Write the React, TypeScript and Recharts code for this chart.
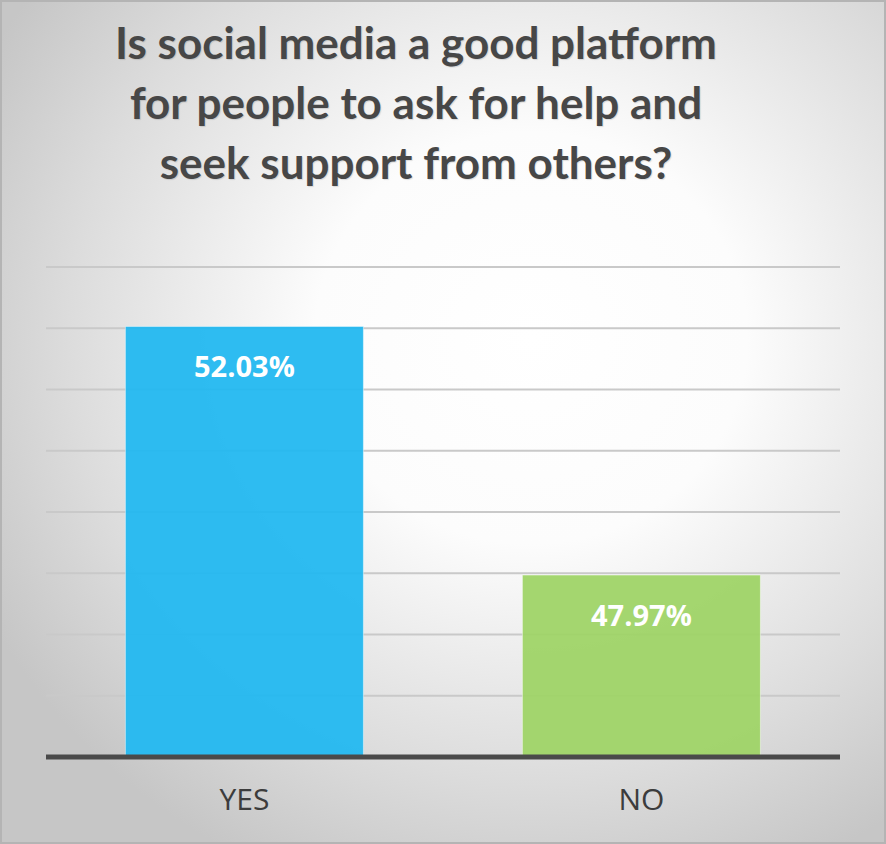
import React from 'react';
import { BarChart, Bar, XAxis, YAxis, CartesianGrid, LabelList, Cell } from 'recharts';

const answers = ['YES', 'NO'];
const shares = [52.03, 47.97];
const barColors = ['#23b8f0', '#9fd467'];
const yTicks = [45, 46, 47, 48, 49, 50, 51, 52, 53];
const titleLines = [
    'Is social media a good platform',
    'for people to ask for help and',
    'seek support from others?',
];

const data = answers.map((answer, i) => ({ answer, share: shares[i] }));

const AnswerTick = (props: any) => {
    const { x, y, payload } = props;
    return (
        <text x={x} y={y + 45} textAnchor="middle" fill="#3c3c3c" fontSize={30} fontFamily="'Open Sans', sans-serif">
            {payload.value}
        </text>
    );
};

const ShareLabel = (props: any) => {
    const { x, y, width, value } = props;
    return (
        <text
            x={x + width / 2}
            y={y + 51}
            textAnchor="middle"
            fill="#ffffff"
            fontSize={29}
            fontWeight={700}
            fontFamily="'Open Sans', sans-serif"
        >
            {value.toFixed(2)}%
        </text>
    );
};

export default function App() {
    return (
        <div
            style={{
                position: 'absolute',
                top: 0,
                left: 0,
                width: 886,
                height: 844,
                boxSizing: 'border-box',
                border: '2px solid #b4b4b4',
                background: 'radial-gradient(ellipse 70% 70% at 60% 40%, #ffffff 0%, #fcfcfc 35%, #dcdcdc 75%, #c6c6c6 100%)',
                overflow: 'hidden',
            }}
        >
            <div
                style={{
                    position: 'absolute',
                    top: 10,
                    left: 0,
                    width: 828,
                    textAlign: 'center',
                    fontFamily: 'Lato, sans-serif',
                    fontWeight: 700,
                    fontSize: 44,
                    lineHeight: '60px',
                    color: '#474747',
                    textShadow: '1px 1px 1px rgba(0,0,0,0.12)',
                }}
            >
                {titleLines.map((line) => (
                    <div key={line}>{line}</div>
                ))}
            </div>
            <div style={{ position: 'absolute', top: -2, left: -2 }}>
                <BarChart
                    width={886}
                    height={844}
                    data={data}
                    margin={{ top: 267, right: 46, left: 46, bottom: 27 }}
                    barCategoryGap="20%"
                >
                    <CartesianGrid horizontal={true} vertical={false} stroke="#c9c9c9" strokeWidth={2} />
                    <YAxis hide domain={[45, 53]} ticks={yTicks} allowDataOverflow />
                    <XAxis
                        dataKey="answer"
                        height={60}
                        axisLine={{ stroke: '#4a4a4a', strokeWidth: 5 }}
                        tickLine={false}
                        tick={<AnswerTick />}
                    />
                    <Bar dataKey="share" isAnimationActive={false} fillOpacity={0.95} stroke="rgba(255,255,255,0.45)" strokeWidth={1}>
                        {data.map((d, i) => (
                            <Cell key={d.answer} fill={barColors[i]} />
                        ))}
                        <LabelList dataKey="share" content={<ShareLabel />} />
                    </Bar>
                </BarChart>
            </div>
        </div>
    );
}
